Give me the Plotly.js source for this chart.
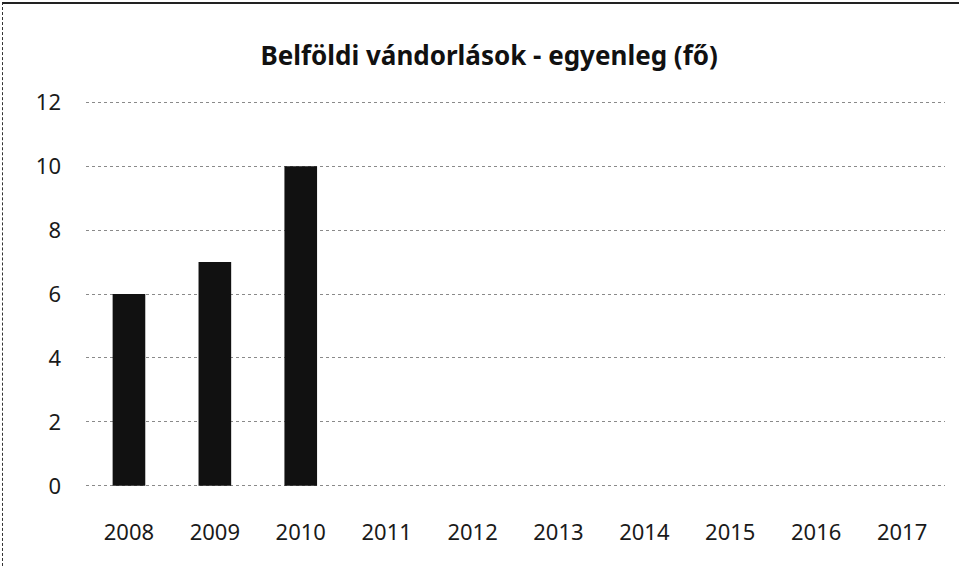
<!DOCTYPE html>
<html><head><meta charset="utf-8">
<script src="https://cdn.plot.ly/plotly-3.0.1.min.js"></script>
<style>
html,body{margin:0;padding:0;background:#fff;}
#frame{position:absolute;left:2px;top:2px;width:957px;height:564px;border-top:2px solid #222;border-left:1px dashed #333;box-sizing:border-box;pointer-events:none;z-index:10;}
#chart{width:959px;height:566px;}
</style></head>
<body>
<div id="frame"></div>
<div id="chart"></div>
<script>
const years = ['2008','2009','2010','2011','2012','2013','2014','2015','2016','2017'];
const balance = [6, 7, 10, 0, 0, 0, 0, 0, 0, 0];
const yTicks = [0, 2, 4, 6, 8, 10, 12];
const chartTitle = 'Belföldi vándorlások - egyenleg (fő)';

const trace = {
  type: 'bar',
  x: years,
  y: balance,
  marker: {color: '#111111'},
  hoverinfo: 'x+y'
};

const layout = {
  width: 959, height: 566,
  margin: {l: 86, r: 14, t: 99, b: 77},
  paper_bgcolor: '#ffffff', plot_bgcolor: '#ffffff',
  font: {family: 'Noto Sans, Open Sans, sans-serif', color: '#1a1a1a', size: 22},
  title: {text: '<b>' + chartTitle + '</b>', x: 0.51, xref: 'container', xanchor: 'center', y: 0.902, yref: 'container', yanchor: 'middle',
          font: {size: 26, color: '#111', family: 'Noto Sans, Open Sans, sans-serif'}},
  bargap: 0.62,
  showlegend: false,
  xaxis: {type: 'category', showgrid: false, showline: false, zeroline: false, ticks: '',
          ticklabelstandoff: 28, tickfont: {size: 22}},
  yaxis: {range: [-0.1, 12.1], tickvals: yTicks, ticktext: yTicks.map(String), showgrid: true,
          gridcolor: '#8a8a8a', griddash: 'dot', gridwidth: 1, zeroline: false, showline: false,
          ticks: '', ticklabelstandoff: 24, tickfont: {size: 22}}
};

Plotly.newPlot('chart', [trace], layout, {displayModeBar: false, staticPlot: true});
</script>
</body></html>
